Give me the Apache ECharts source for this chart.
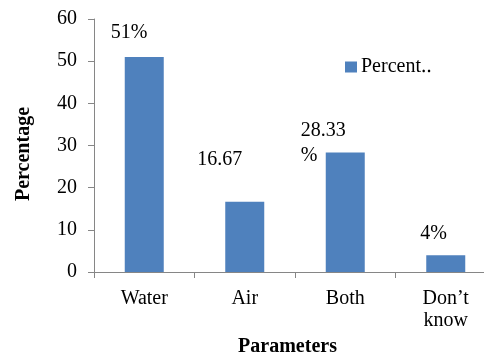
<!DOCTYPE html>
<html>
<head>
<meta charset="utf-8">
<script src="https://cdn.jsdelivr.net/npm/echarts@6/dist/echarts.min.js"></script>
<style>
html,body{margin:0;padding:0;background:#fff;}
#chart{width:484px;height:352px;}
</style>
</head>
<body>
<div id="chart"></div>
<script>
const categories = ['Water', 'Air', 'Both', 'Don\u2019t\nknow'];
const values = [51, 16.67, 28.33, 4];
const valueLabels = ['51%', '16.67', '28.33\n%', '4%'];
const yTicks = [0, 10, 20, 30, 40, 50, 60];
const seriesName = 'Percent\u2025';

const FONT = 'Liberation Serif';
const labelOffsets = [[-14, -24], [-28, -42], [-25, -9], [-6, -21]];

const chart = echarts.init(document.getElementById('chart'), null, {renderer: 'canvas'});
chart.setOption({
  animation: false,
  backgroundColor: '#fff',
  textStyle: {fontFamily: FONT, color: '#000'},
  grid: {left: 94, top: 19, width: 402, height: 253, containLabel: false, outerBoundsMode: 'none'},
  legend: {
    left: 340, top: 52,
    padding: 5,
    itemWidth: 12, itemHeight: 11, itemGap: 10,
    icon: 'rect',
    textStyle: {fontFamily: FONT, fontSize: 20, color: '#000', padding: [0, 0, 0, -1]},
    data: [seriesName]
  },
  xAxis: {
    type: 'category',
    data: categories,
    axisLine: {lineStyle: {color: '#868686', width: 1}},
    axisTick: {show: true, length: 6, alignWithLabel: false, lineStyle: {color: '#868686'}},
    axisLabel: {fontFamily: FONT, fontSize: 20, color: '#000', margin: 16, lineHeight: 22, interval: 0},
    name: 'Parameters',
    nameLocation: 'middle',
    nameGap: 60,
    nameTextStyle: {fontFamily: FONT, fontSize: 20, fontWeight: 'bold', color: '#000', padding: [0, 15, 0, 0]}
  },
  yAxis: {
    type: 'value',
    min: yTicks[0], max: yTicks[yTicks.length - 1], interval: 10,
    splitLine: {show: false},
    axisLine: {show: true, lineStyle: {color: '#868686', width: 1}},
    axisTick: {show: true, length: 6, lineStyle: {color: '#868686'}},
    axisLabel: {fontFamily: FONT, fontSize: 20, color: '#000', margin: 17},
    name: 'Percentage',
    nameLocation: 'middle',
    nameRotate: 90,
    nameGap: 60,
    nameTextStyle: {fontFamily: FONT, fontSize: 20, fontWeight: 'bold', color: '#000', padding: [0, 0, 0, -17]}
  },
  series: [{
    name: seriesName,
    type: 'bar',
    barWidth: 39,
    itemStyle: {color: '#4F81BD'},
    data: values.map((v, i) => ({
      value: v,
      label: {
        show: true,
        position: labelOffsets[i],
        align: 'left',
        verticalAlign: 'middle',
        formatter: valueLabels[i],
        fontFamily: FONT,
        fontSize: 20,
        lineHeight: 25,
        color: '#000'
      }
    }))
  }]
});
</script>
</body>
</html>
